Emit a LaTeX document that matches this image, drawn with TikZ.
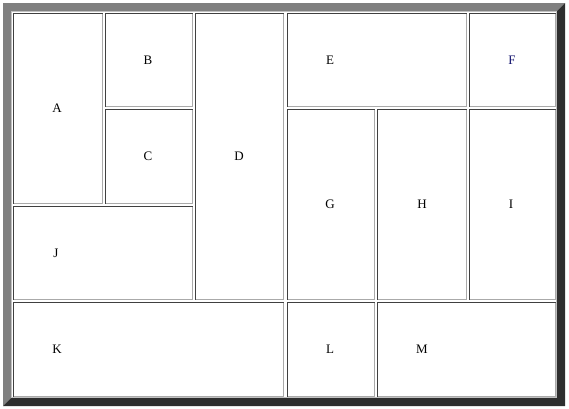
\documentclass[tikz,border=0pt]{standalone}
\usepackage{fontspec}
\setmainfont{Liberation Serif}
\usetikzlibrary{positioning}
\definecolor{frameclr}{RGB}{128,128,128}
\definecolor{shadeclr}{RGB}{46,46,46}
\definecolor{celldark}{RGB}{64,64,64}
\definecolor{celllight}{RGB}{170,170,170}
\definecolor{navyclr}{RGB}{20,20,110}

\begin{document}
\begin{tikzpicture}[x=1pt, y=-1pt,
    lbl/.style={inner sep=0pt, font=\fontsize{13}{15}\selectfont},
    edge/.style={line width=1pt}]
    \useasboundingbox (0,0) rectangle (569,408);
    % outset frame of the table
    \fill[frameclr] (3,3) -- (565,3) -- (557,11) -- (11,11) -- (11,398) -- (3,406) -- cycle;
    \fill[shadeclr] (565,3) -- (565,406) -- (3,406) -- (11,398) -- (557,398) -- (557,11) -- cycle;
    \draw[edge, frameclr!50] (11.5,11.5) rectangle (556.5,397.5);
    % cells: x1/y1/x2/y2/label x/label y/name/colour
    \foreach \xa/\ya/\xb/\yb/\lx/\ly/\n/\c in {
        13/13/102/203/57/108/A/black,
        105/13/192/106/148/60/B/black,
        105/109/192/203/148/156/C/black,
        195/13/283/299/239/156/D/black,
        287/13/466/106/330/60/E/black,
        469/13/555/106/512/60/F/navyclr,
        287/109/374/299/330/204/G/black,
        377/109/466/299/422/204/H/black,
        469/109/555/299/511/204/I/black,
        13/206/192/299/56/253/J/black,
        13/302/283/396/57/349/K/black,
        287/302/374/396/330/349/L/black,
        377/302/555/396/422/349/M/black} {
      \draw[edge, celldark] (\xa+0.5,\yb+0.5) -- (\xa+0.5,\ya+0.5) -- (\xb+0.5,\ya+0.5);
      \draw[edge, celllight] (\xb+0.5,\ya+0.5) -- (\xb+0.5,\yb+0.5) -- (\xa+0.5,\yb+0.5);
      \node[lbl, text=\c] (\n) at (\lx,\ly) {\n};
    }
  \end{tikzpicture}
\end{document}
